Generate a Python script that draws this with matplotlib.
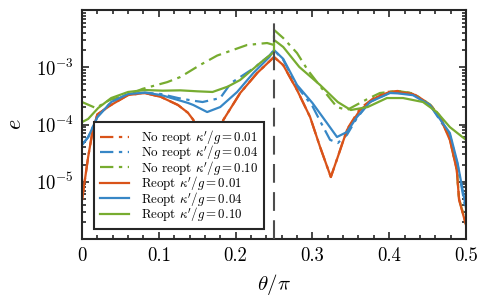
import matplotlib
matplotlib.use("Agg")
import matplotlib.pyplot as plt
import numpy as np

plt.rcParams['font.family'] = ['cmr10', 'DejaVu Serif']
plt.rcParams['mathtext.fontset'] = 'cm'
plt.rcParams['axes.formatter.use_mathtext'] = True
plt.rcParams['axes.unicode_minus'] = False

# ---- data ----
th_r01 = [0, 0.008, 0.014, 0.02, 0.038, 0.06, 0.082, 0.103, 0.125, 0.138, 0.145, 0.155, 0.164, 0.173,
          0.184, 0.206, 0.228, 0.25, 0.262, 0.28, 0.297, 0.31, 0.324, 0.333, 0.345, 0.362, 0.384, 0.397,
          0.411, 0.431, 0.453, 0.466, 0.479, 0.488, 0.491, 0.5]
e_r01 = [4.8e-6, 2.7e-5, 8.0e-5, 1.5e-4, 2.2e-4, 3.27e-4, 3.55e-4, 3.02e-4, 2.19e-4, 1.6e-4, 1.2e-4, 4.0e-5,
         1.2e-5, 4.0e-5, 1.2e-4, 3.55e-4, 7.9e-4, 1.51e-3, 1.09e-3, 4.0e-4, 1.35e-4, 4.05e-5, 1.21e-5,
         2.7e-5, 8.0e-5, 1.79e-4, 3.02e-4, 3.55e-4, 3.7e-4, 3.41e-4, 2.19e-4, 1.35e-4, 5.36e-5, 1.6e-5,
         4.8e-6, 1.76e-6]

th_n01 = th_r01
e_n01 = [4.8e-6, 2.7e-5, 8.0e-5, 1.5e-4, 2.2e-4, 3.27e-4, 3.55e-4, 3.02e-4, 2.19e-4, 1.6e-4, 1.2e-4, 4.0e-5,
         1.2e-5, 4.0e-5, 1.2e-4, 3.55e-4, 7.9e-4, 1.51e-3, 1.09e-3, 4.0e-4, 1.35e-4, 4.05e-5, 1.21e-5,
         2.7e-5, 8.2e-5, 1.9e-4, 3.2e-4, 3.7e-4, 3.85e-4, 3.5e-4, 2.25e-4, 1.4e-4, 5.6e-5, 1.65e-5,
         5.0e-6, 1.8e-6]

th_r04 = [0, 0.008, 0.02, 0.038, 0.06, 0.082, 0.103, 0.125, 0.138, 0.145, 0.163, 0.18, 0.202, 0.223,
          0.244, 0.25, 0.262, 0.28, 0.3, 0.319, 0.332, 0.345, 0.358, 0.375, 0.401, 0.411, 0.431, 0.453,
          0.479, 0.489, 0.5]
e_r04 = [4.4e-5, 6.0e-5, 1.35e-4, 2.47e-4, 3.41e-4, 3.6e-4, 3.27e-4, 2.68e-4, 2.38e-4, 2.19e-4, 1.65e-4,
         2.02e-4, 3.7e-4, 7.9e-4, 1.51e-3, 2.0e-3, 1.4e-3, 4.9e-4, 2.38e-4, 1.06e-4, 6.05e-5, 7.4e-5,
         1.35e-4, 2.47e-4, 3.55e-4, 3.5e-4, 3.25e-4, 2.19e-4, 7.1e-5, 2.13e-5, 3.5e-6]

th_n04 = [0, 0.008, 0.02, 0.038, 0.06, 0.082, 0.103, 0.125, 0.145, 0.157, 0.18, 0.194, 0.223, 0.244,
          0.25, 0.262, 0.28, 0.3, 0.31, 0.323, 0.333, 0.345, 0.358, 0.375, 0.401, 0.411, 0.431, 0.453,
          0.479, 0.489, 0.5]
e_n04 = [4.4e-5, 6.0e-5, 1.35e-4, 2.47e-4, 3.41e-4, 3.6e-4, 3.4e-4, 2.9e-4, 2.6e-4, 2.47e-4, 2.9e-4,
         5.3e-4, 9.5e-4, 1.6e-3, 2.0e-3, 1.35e-3, 4.6e-4, 2.1e-4, 1.15e-4, 5.4e-5, 4.75e-5, 6.6e-5,
         1.3e-4, 2.5e-4, 3.6e-4, 3.6e-4, 3.35e-4, 2.2e-4, 6.5e-5, 2.0e-5, 3.0e-6]

th_r10 = [0, 0.008, 0.021, 0.038, 0.06, 0.082, 0.105, 0.128, 0.15, 0.17, 0.19, 0.206, 0.232, 0.25, 0.25,
          0.262, 0.283, 0.31, 0.333, 0.35, 0.372, 0.397, 0.418, 0.444, 0.462, 0.479, 0.5]
e_r10 = [1.1e-4, 1.25e-4, 1.94e-4, 2.9e-4, 3.7e-4, 4.0e-4, 3.9e-4, 3.95e-4, 3.8e-4, 3.7e-4, 4.6e-4, 6.0e-4,
         1.19e-3, 1.85e-3, 3.0e-3, 2.26e-3, 1.01e-3, 4.9e-4, 2.47e-4, 1.79e-4, 2.02e-4, 2.9e-4, 2.9e-4,
         2.47e-4, 1.65e-4, 9.0e-5, 5.4e-5]

th_n10 = [0, 0.018, 0.036, 0.059, 0.079, 0.111, 0.128, 0.154, 0.176, 0.215, 0.241, 0.25, 0.25, 0.262,
          0.28, 0.294, 0.314, 0.332, 0.345, 0.362, 0.372, 0.388, 0.411, 0.431, 0.453, 0.466, 0.479,
          0.488, 0.491, 0.5]
e_n10 = [2.47e-4, 1.94e-4, 2.68e-4, 3.27e-4, 4.2e-4, 5.5e-4, 6.75e-4, 1.1e-3, 1.6e-3, 2.45e-3, 2.65e-3,
         2.45e-3, 4.5e-3, 3.24e-3, 1.77e-3, 8.9e-4, 4.0e-4, 2.02e-4, 1.79e-4, 2.38e-4, 2.8e-4, 3.55e-4,
         3.85e-4, 3.5e-4, 2.25e-4, 1.4e-4, 5.6e-5, 1.65e-5, 5.0e-6, 1.8e-6]

labels = [r"No reopt $\kappa'/g = 0.01$", r"No reopt $\kappa'/g = 0.04$", r"No reopt $\kappa'/g = 0.10$",
          r"Reopt $\kappa'/g = 0.01$", r"Reopt $\kappa'/g = 0.04$", r"Reopt $\kappa'/g = 0.10$"]
xticks = [0, 0.1, 0.2, 0.3, 0.4, 0.5]
xticklabels = ['0', '0.1', '0.2', '0.3', '0.4', '0.5']
theta_mark = 0.25

c_or = '#D95319'
c_bl = '#3787C6'
c_gr = '#77AC30'

fig = plt.figure(figsize=(4.78, 3.03), dpi=100)
ax = fig.add_axes([82/478, 1-239/303, 384/478, 229/303])

dd = (6, 2.5, 1.5, 2.5)
lw = 1.6
ax.plot(th_n01, e_n01, color=c_or, lw=lw, dashes=dd, label=labels[0])
ax.plot(th_n04, e_n04, color=c_bl, lw=lw, dashes=dd, label=labels[1])
ax.plot(th_n10, e_n10, color=c_gr, lw=lw, dashes=dd, label=labels[2])
ax.plot(th_r01, e_r01, color=c_or, lw=lw, label=labels[3])
ax.plot(th_r04, e_r04, color=c_bl, lw=lw, label=labels[4])
ax.plot(th_r10, e_r10, color=c_gr, lw=lw, label=labels[5])

ax.axvline(theta_mark, color='#4D4D4D', lw=1.5, dashes=(9, 4.5), zorder=5)

ax.set_yscale('log')
ax.set_xlim(0, 0.5)
ax.set_ylim(1e-6, 1e-2)
ax.set_yticks([1e-5, 1e-4, 1e-3])
ax.set_xticks(xticks)
ax.set_xticklabels(xticklabels)
ax.xaxis.set_minor_locator(matplotlib.ticker.MultipleLocator(0.02))
ax.tick_params(which='both', direction='in', top=True, right=True, width=1.2, colors='#262626',
               labelcolor='black', labelsize=13.5, pad=6)
ax.tick_params(which='major', length=5)
ax.tick_params(which='minor', length=2.8)
for s in ax.spines.values():
    s.set_linewidth(1.5)
    s.set_color('#262626')

ax.set_xlabel(r'$\theta/\pi$', fontsize=15, labelpad=5)
ax.set_ylabel(r'$e$', fontsize=16, labelpad=8)

leg = ax.legend(loc='lower left', bbox_to_anchor=(0.031, 0.044), fontsize=9.3, frameon=True,
                fancybox=False, framealpha=1, edgecolor='#262626', handlelength=2.3,
                labelspacing=-0.2, borderpad=0.45, handletextpad=0.9, borderaxespad=0)
leg.get_frame().set_linewidth(1.5)

fig.savefig('out.png', dpi=100)
